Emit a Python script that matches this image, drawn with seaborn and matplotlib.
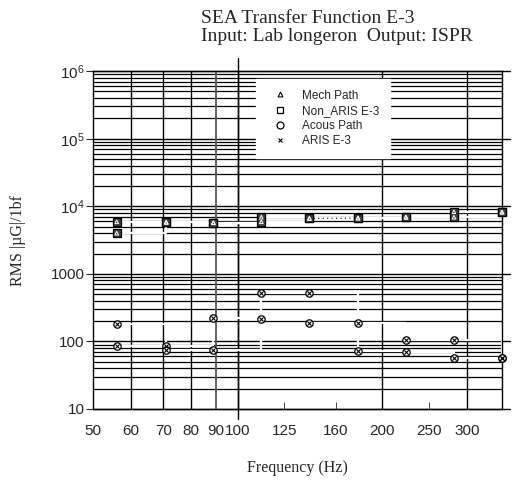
import numpy as np
import pandas as pd
import matplotlib
matplotlib.use("Agg")
import matplotlib.pyplot as plt
import seaborn as sns

# 1/3 octave band centres (Hz)
freq = [56, 71, 89, 112, 141, 178, 224, 282, 355]

# upper group, squares with triangles inside
mech_path = [5900, 5800, 5700, 6900, 6600, 6700, 6900, 8300, 8200]
non_aris = [4000, 5800, 5700, 5900, 6600, 6700, 6900, 6900, 8200]

# lower group, circles with crosses inside
acous_path = [179, 87, 224, 528, 528, 189, 104, 104, 56]
aris = [85, 74, 74, 217, 189, 72, 70, 56, 56]

x_grid = [60, 70, 80, 90, 100, 200, 300]
x_minor = [50, 125, 160, 250]
y_ticks = [10, 100, 1000, 1e4, 1e5, 1e6]
y_labels = ['10', '100', '1000', r'$\mathregular{10^4}$', r'$\mathregular{10^5}$', r'$\mathregular{10^6}$']

sns.set_style("white")
plt.rcParams['font.family'] = ['Liberation Sans', 'DejaVu Sans']
plt.rcParams['mathtext.fontset'] = 'custom'
plt.rcParams['mathtext.rm'] = 'Liberation Sans'

fig = plt.figure(figsize = (5.17, 4.84), dpi = 100)
ax = fig.add_axes([0.180, 0.155, 0.791, 0.698])
ax.set_xscale('log')
ax.set_yscale('log')
ax.set_xlim(50, 355)
ax.set_ylim(10, 1e6)

# grid lines
for y in y_ticks:
    ax.axhline(y, color = 'black', lw = 1.0, xmax = 1.02, clip_on = False, zorder = 1)
for d in [10, 100, 1000, 1e4, 1e5]:
    for m in range(2, 10):
        ax.axhline(d * m, color = 'black', lw = 0.9, zorder = 1)
for xg in x_grid:
    ax.axvline(xg, color = '0.35' if xg == 90 else 'black', lw = 1.3 if xg == 90 else 1.0, zorder = 1)
ax.axvline(100, ymin = -0.03, ymax = 1.04, color = 'black', lw = 1.0, clip_on = False, zorder = 1)

# white connecting lines
df = pd.DataFrame({'freq': freq, 'mech': mech_path, 'non': non_aris, 'acous': acous_path, 'aris': aris})
for col in ['mech', 'non', 'acous', 'aris']:
    sns.lineplot(data = df, x = 'freq', y = col, ax = ax, color = 'white', lw = 1.6,
                 drawstyle = 'steps-post', zorder = 2, legend = False)
sns.lineplot(data = df.iloc[4:6], x = 'freq', y = 'mech', ax = ax, color = 'black', lw = 0.8,
             linestyle = (0, (1, 3)), zorder = 3, legend = False)

# markers
for col in ['mech', 'non']:
    sns.scatterplot(data = df, x = 'freq', y = col, ax = ax, marker = 's', s = 36,
                    facecolor = '0.25', edgecolor = 'black', linewidth = 0.9, zorder = 4, clip_on = False)
    sns.scatterplot(data = df, x = 'freq', y = col, ax = ax, marker = '^', s = 7,
                    facecolor = 'none', edgecolor = 'white', linewidth = 0.7, zorder = 5, clip_on = False)
for col in ['acous', 'aris']:
    sns.scatterplot(data = df, x = 'freq', y = col, ax = ax, marker = 'o', s = 28,
                    facecolor = 'white', edgecolor = 'black', linewidth = 0.9, zorder = 4, clip_on = False)
    sns.scatterplot(data = df, x = 'freq', y = col, ax = ax, marker = 'x', s = 9,
                    color = 'black', linewidth = 0.8, zorder = 5, clip_on = False)

# legend
h = [
    plt.Line2D([], [], ls = 'none', marker = '^', ms = 3.5, mfc = 'none', mec = 'black', mew = 0.8),
    plt.Line2D([], [], ls = 'none', marker = 's', ms = 5, mfc = 'none', mec = 'black', mew = 0.9),
    plt.Line2D([], [], ls = 'none', marker = 'o', ms = 5, mfc = 'none', mec = 'black', mew = 0.9),
    plt.Line2D([], [], ls = 'none', marker = 'x', ms = 3.5, mec = 'black', mew = 0.8),
]
leg = ax.legend(h, ['Mech Path', 'Non_ARIS E-3', 'Acous Path', 'ARIS E-3'],
                loc = 'upper left', bbox_to_anchor = (250 / 517, 1 - 73 / 484),
                bbox_transform = fig.transFigure, fontsize = 8.5, frameon = True,
                fancybox = False, framealpha = 1, edgecolor = 'white', facecolor = 'white',
                handletextpad = 0.8, labelspacing = 0.28, borderpad = 0.9, handlelength = 2.2)
leg.set_zorder(6)

# ticks
ax.set_xticks(x_grid)
ax.set_xticklabels([str(v) for v in x_grid])
ax.set_xticks(x_minor, minor = True)
ax.set_xticklabels([str(v) for v in x_minor], minor = True)
ax.tick_params(axis = 'x', which = 'major', length = 0, pad = 11, labelsize = 11)
ax.tick_params(axis = 'x', which = 'minor', length = 5, direction = 'in', pad = 11, labelsize = 11, bottom = True)
ax.set_yticks(y_ticks)
ax.set_yticklabels(y_labels)
ax.yaxis.set_minor_locator(matplotlib.ticker.NullLocator())
ax.tick_params(axis = 'y', which = 'major', length = 5, direction = 'out', pad = 1, labelsize = 11, left = True)

for s in ax.spines.values():
    s.set_color('black')
    s.set_linewidth(1.0)

serif = ['Liberation Serif', 'DejaVu Serif']
fig.text(201 / 517, 1 - 23 / 484, 'SEA Transfer Function E-3', family = serif, fontsize = 14, va = 'baseline')
fig.text(201 / 517, 1 - 41 / 484, 'Input: Lab longeron  Output: ISPR', family = serif, fontsize = 14, va = 'baseline')
ax.set_xlabel('Frequency (Hz)', family = serif, fontsize = 11.5, labelpad = 16)
ax.set_ylabel('RMS |µG|/1bf', family = serif, fontsize = 11.5, labelpad = 18)

fig.savefig('out.png', dpi = 100)
